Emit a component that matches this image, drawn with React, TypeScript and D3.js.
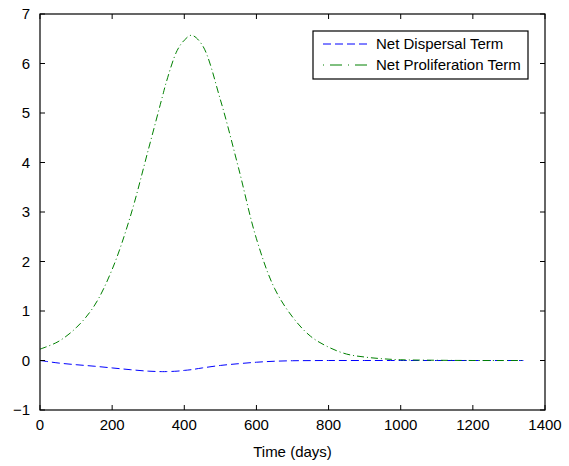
import React from 'react';
import * as d3 from 'd3';

// time grid (days) and the two terms
const days = [0, 50, 100, 150, 200, 250, 300, 340, 350, 380, 400, 420, 450, 500, 550, 600, 650, 700, 750, 800, 850, 900, 950, 1000, 1100, 1200, 1340];
const dispersal = [0, -0.05, -0.085, -0.115, -0.15, -0.185, -0.215, -0.225, -0.224, -0.215, -0.2, -0.185, -0.15, -0.1, -0.065, -0.035, -0.015, -0.005, -0.002, 0, 0, 0, 0, 0, 0, 0, 0];
const proliferation = [0.23, 0.38, 0.66, 1.1, 1.84, 2.9, 4.25, 5.35, 5.62, 6.26, 6.47, 6.57, 6.37, 5.27, 3.9, 2.46, 1.46, 0.88, 0.49, 0.27, 0.13, 0.07, 0.035, 0.015, 0.005, 0, 0];

const xTicks = [0, 200, 400, 600, 800, 1000, 1200, 1400];
const yTicks = [-1, 0, 1, 2, 3, 4, 5, 6, 7];

const W = 569, H = 466;
const margin = { left: 40, right: 24, top: 14, bottom: 56 };

export default function App() {
  const x = d3.scaleLinear().domain([0, 1400]).range([margin.left, W - margin.right]);
  const y = d3.scaleLinear().domain([-1, 7]).range([H - margin.bottom, margin.top]);

  const line = (vals: number[]) =>
    d3.line<number>()
      .x((_, i) => x(days[i]))
      .y(d => y(d))
      .curve(d3.curveCatmullRom.alpha(0.5))(vals) || '';

  const x0 = x.range()[0], x1 = x.range()[1];
  const y0 = y.range()[0], y1 = y.range()[1];
  const font = "'Liberation Sans', Arial, sans-serif";
  const tick = 5;
  const fs = 15;

  const fmt = (v: number) => (v < 0 ? '\u2212' + Math.abs(v) : String(v));

  return (
    <svg width={W} height={H} style={{ position: 'absolute', left: 0, top: 0, background: '#fff' }}
      fontFamily={font}>
      <rect x={0} y={0} width={W} height={H} fill="#fff" />

      {/* curves */}
      <path d={line(dispersal)} fill="none" stroke="#0000ff" strokeWidth={1} strokeDasharray="8,4" />
      <path d={line(proliferation)} fill="none" stroke="#008000" strokeWidth={1} strokeDasharray="7,3,1,3" />

      {/* box */}
      <rect x={x0} y={y1} width={x1 - x0} height={y0 - y1} fill="none" stroke="#000" strokeWidth={1.2} />

      {/* x ticks */}
      {xTicks.map(t => (
        <g key={'x' + t}>
          <line x1={x(t)} x2={x(t)} y1={y0} y2={y0 - tick} stroke="#000" />
          <line x1={x(t)} x2={x(t)} y1={y1} y2={y1 + tick} stroke="#000" />
          <text x={x(t)} y={y0 + 20} fontSize={fs} textAnchor="middle" fill="#000">{t}</text>
        </g>
      ))}

      {/* y ticks */}
      {yTicks.map(t => (
        <g key={'y' + t}>
          <line x1={x0} x2={x0 + tick} y1={y(t)} y2={y(t)} stroke="#000" />
          <line x1={x1} x2={x1 - tick} y1={y(t)} y2={y(t)} stroke="#000" />
          <text x={x0 - 10} y={y(t) + 5} fontSize={fs} textAnchor="end" fill="#000">{fmt(t)}</text>
        </g>
      ))}

      <text x={(x0 + x1) / 2} y={y0 + 47} fontSize={fs} textAnchor="middle" fill="#000">Time (days)</text>

      {/* legend */}
      <g>
        <rect x={313} y={31} width={215} height={48} fill="#fff" stroke="#000" strokeWidth={1.2} />
        <line x1={323} x2={369} y1={44} y2={44} stroke="#0000ff" strokeDasharray="8,4" />
        <text x={376} y={49} fontSize={fs} fill="#000">Net Dispersal Term</text>
        <line x1={323} x2={369} y1={65} y2={65} stroke="#008000" strokeDasharray="1,6,12,6" />
        <text x={376} y={70} fontSize={fs} fill="#000">Net Proliferation Term</text>
      </g>
    </svg>
  );
}
